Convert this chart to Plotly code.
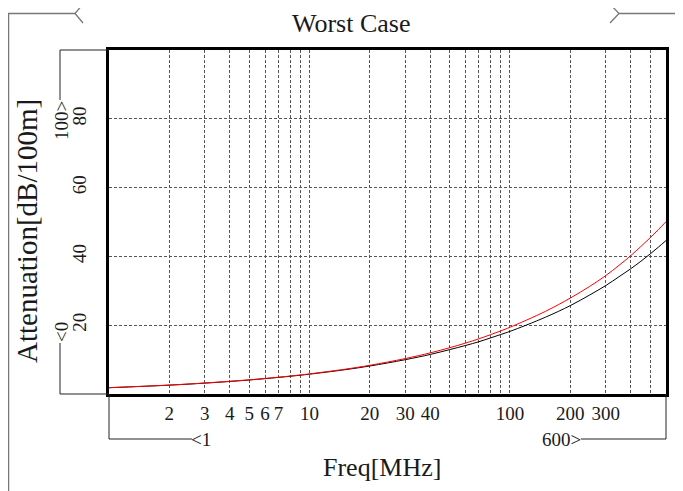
import plotly.graph_objects as go

# frequency points [MHz] and attenuation [dB/100m]
freq = [1, 2, 3, 4, 5, 6, 7, 8, 9, 10, 15, 20, 30, 40, 50, 60, 70, 80, 90, 100,
        150, 200, 250, 300, 350, 400, 450, 500, 550, 600]
atten_black = [1.82, 2.57, 3.15, 3.64, 4.07, 4.46, 4.82, 5.15, 5.46, 5.76, 7.05, 8.14,
               9.97, 11.5, 12.9, 14.1, 15.2, 16.3, 17.3, 18.2, 22.3, 25.7, 28.8, 31.5,
               34.1, 36.4, 38.6, 40.7, 42.7, 44.6]
atten_red = [1.85, 2.6, 3.2, 3.7, 4.12, 4.52, 4.88, 5.22, 5.54, 5.85, 7.2, 8.35,
             10.3, 11.95, 13.45, 14.8, 16.05, 17.25, 18.35, 19.4, 24.0, 27.9, 31.3, 34.4,
             37.4, 40.2, 42.9, 45.4, 47.8, 50.1]

x_grid = [2, 3, 4, 5, 6, 7, 8, 9, 10, 20, 30, 40, 50, 60, 70, 80, 90, 100, 200, 300, 400, 500]
x_labeled = [2, 3, 4, 5, 6, 7, 10, 20, 30, 40, 100, 200, 300]
x_text = [str(v) if v in x_labeled else "" for v in x_grid]
y_ticks = [20, 40, 60, 80]

W, H = 683, 491
OFF = 8  # page body margin, screen coords = figure coords + OFF
# plot box in screen coords: x 109..666, y 50..394
L, T = 109 - OFF, 50 - OFF
R, B = W - (666 - OFF), H - (394 - OFF)
PW, PH = W - L - R, H - T - B

SERIF = "Liberation Serif"
INK = "#1a1a1a"


def px(x):
    return (x - OFF - L) / PW


def py(y):
    return (H - B - (y - OFF)) / PH


def path(pts):
    return "M " + " L ".join(f"{px(a)},{py(b)}" for a, b in pts)


fig = go.Figure()
fig.add_trace(go.Scatter(x=freq, y=atten_black, mode="lines",
                         line=dict(color="black", width=1, shape="spline"), showlegend=False))
fig.add_trace(go.Scatter(x=freq, y=atten_red, mode="lines",
                         line=dict(color="red", width=1, shape="spline"), showlegend=False))

# decorative bracket lines round the plot (screen coords)
shapes = []
gray = dict(color="#777777", width=1.3)
blk = dict(color="#222222", width=1)
for pts, ln in [
    ([(8.6, 700), (8.6, 13.5), (75, 13.5)], gray),
    ([(83, 4), (75, 13.5), (83, 23)], gray),
    ([(610, 4), (619, 13.5), (610, 23)], gray),
    ([(619, 13.5), (700, 13.5)], gray),
    ([(109, 50), (60, 50), (60, 100)], blk),
    ([(60, 343), (60, 394), (109, 394)], blk),
    ([(109, 394), (109, 439), (192, 439)], blk),
    ([(581, 439), (666, 439), (666, 394)], blk),
]:
    shapes.append(dict(type="path", path=path(pts), xref="paper", yref="paper", line=ln))

annotations = [
    dict(text="Worst Case", x=px(351), y=py(OFF), yanchor="top", font=dict(family=SERIF, size=26, color=INK)),
    dict(text="Freq[MHz]", x=px(382), y=py(467), font=dict(family=SERIF, size=26, color=INK)),
    dict(text="Attenuation[dB/100m]", x=px(27), y=py(231), textangle=-90,
         font=dict(family=SERIF, size=29, color=INK)),
    dict(text="100>", x=px(61), y=py(121), textangle=-90, font=dict(family=SERIF, size=19, color=INK)),
    dict(text="<0", x=px(61), y=py(332), textangle=-90, font=dict(family=SERIF, size=19, color=INK)),
    dict(text="<1", x=px(201), y=py(439), font=dict(family=SERIF, size=19, color=INK)),
    dict(text="600>", x=px(561), y=py(439), font=dict(family=SERIF, size=19, color=INK)),
]
for a in annotations:
    a.setdefault("yanchor", "middle")
    a.update(xref="paper", yref="paper", showarrow=False, xanchor="center", borderpad=0)

grid = dict(showgrid=True, gridcolor="#555555", gridwidth=1, griddash="3px,2px")
fig.update_layout(
    width=W, height=H,
    margin=dict(l=L, r=R, t=T, b=B),
    paper_bgcolor="white", plot_bgcolor="white",
    shapes=shapes, annotations=annotations,
    xaxis=dict(type="log", range=[0, 2.7782], tickvals=x_grid, ticktext=x_text,
               tickfont=dict(family=SERIF, size=19, color=INK), ticks="", ticklabelstandoff=0,
               showline=True, linecolor="black", linewidth=3, mirror=True, zeroline=False, **grid),
    yaxis=dict(range=[0, 100], tickvals=y_ticks, tickangle=-90,
               tickfont=dict(family=SERIF, size=19, color=INK), ticks="", ticklabelstandoff=12,
               showline=True, linecolor="black", linewidth=3, mirror=True, zeroline=False, **grid),
)

fig.write_html("out.html")
